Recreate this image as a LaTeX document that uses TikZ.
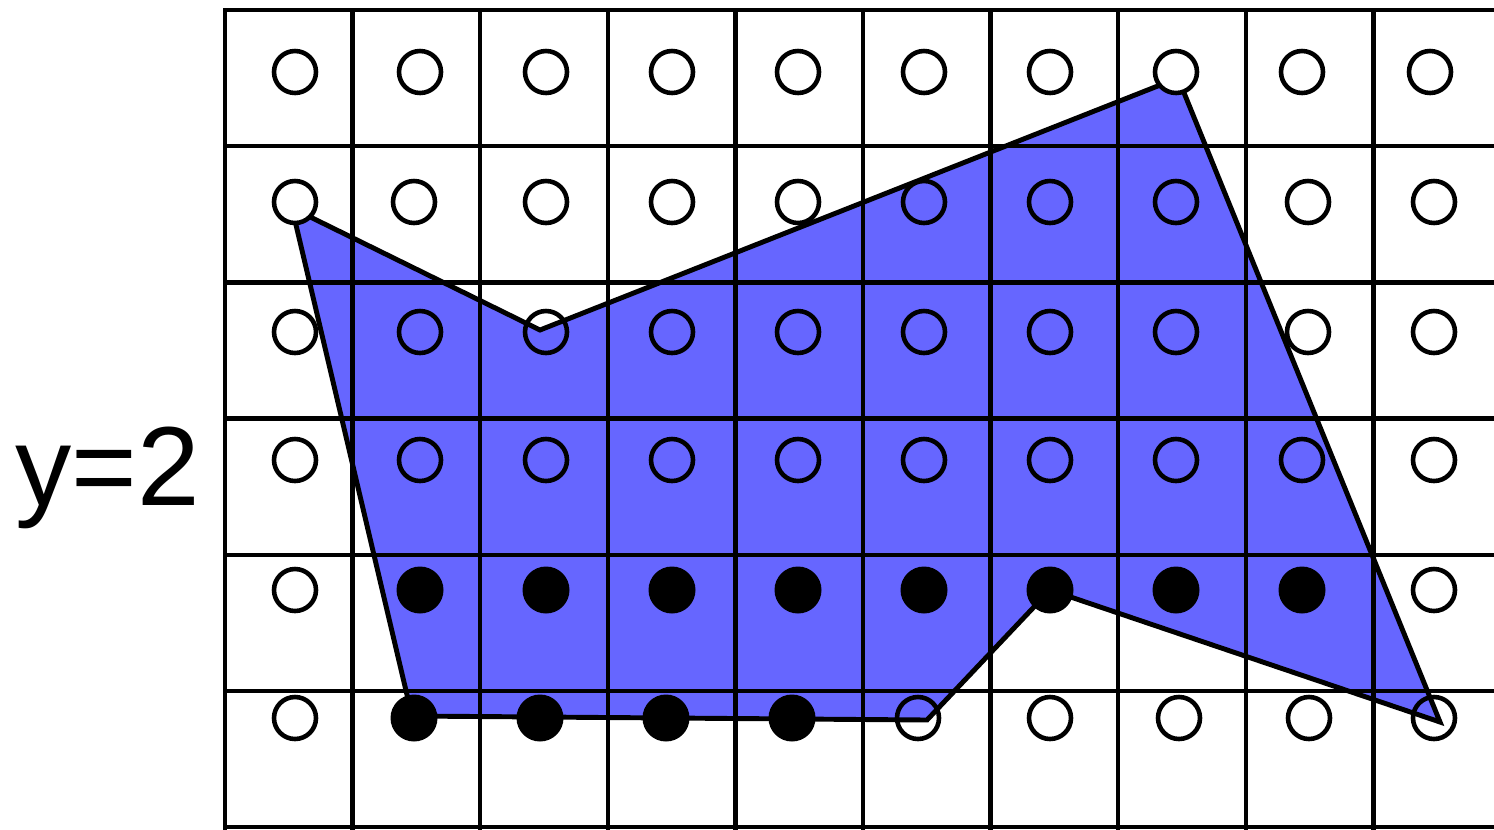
\documentclass[tikz,border=0pt]{standalone}
\usepackage{fontspec}
\setmainfont{Liberation Sans}
\definecolor{polyblue}{RGB}{102,102,255}
\tikzset{
  sample/.style={line width=2.6pt},
  covered/.style={fill=black},
  gridline/.style={line width=2.5pt, line cap=rect},
}
\begin{document}
\begin{tikzpicture}[x=0.02cm,y=-0.02cm,line width=2.6pt]
		\useasboundingbox (0,0) rectangle (1494,829);
		% the polygon
		\fill[polyblue] (292,208) -- (540,330) -- (1178,78) -- (1440,722) -- (1050,590) -- (927,720) -- (412,716) -- cycle;
		% grid of pixels
		\foreach \i in {0,...,9}
			\draw[gridline] (225+127.6*\i,10) -- (225+127.6*\i,829);
		\foreach \j in {0,...,6}
			\draw[gridline] (225,10+136.2*\j) -- (1494,10+136.2*\j);
		\draw[line width=2.8pt] (292,208) -- (540,330) -- (1178,78) -- (1440,722) -- (1050,590) -- (927,720) -- (412,716) -- cycle;
		% sample points
		\foreach \y/\xs in {72/{295,420,546,672,798,924,1050,1302,1430},
				202/{414,546,672,798,924,1050,1176,1308,1434},
				332/{295,420,546,672,798,924,1050,1176,1308,1434},
				460/{295,420,546,672,798,924,1050,1176,1302,1434},
				590/{295,1434},
				718/{295,918,1050,1179,1309,1434}}
			\foreach \x in \xs
				\draw[sample] (\x,\y) circle (21);
		\draw[sample, fill=white] (295,202) circle (21) (1176,72) circle (21);
		\foreach \x in {420,546,672,798,924,1050,1176,1302}
			\fill[covered] (\x,590) circle (23.5);
		\foreach \x in {414,540,666,792}
			\fill[covered] (\x,718) circle (23.5);
		\node[anchor=base west, inner sep=0pt, font=\fontsize{64}{64}\selectfont] (ylabel) at (13,505) {y=2};
\end{tikzpicture}
\end{document}
